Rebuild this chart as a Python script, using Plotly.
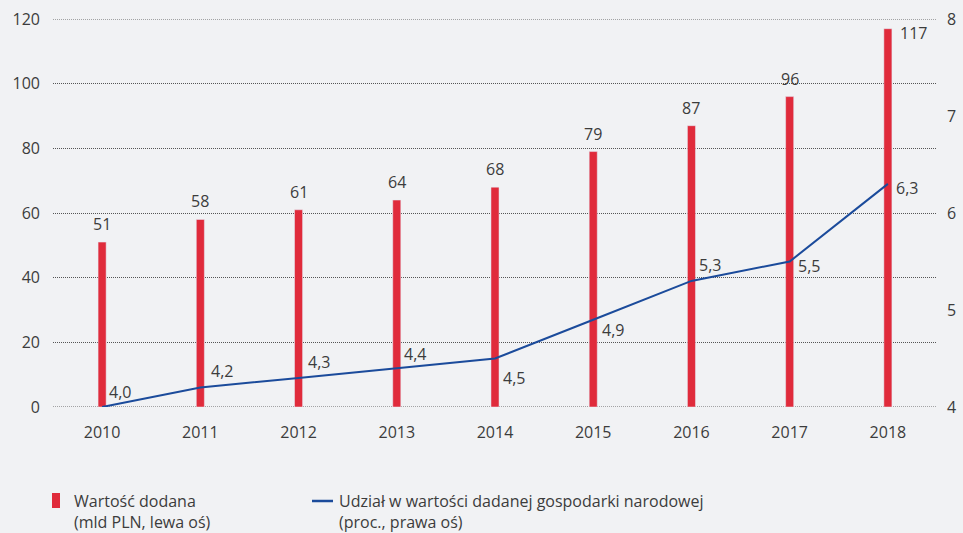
import plotly.graph_objects as go

years = ["2010", "2011", "2012", "2013", "2014", "2015", "2016", "2017", "2018"]
value_added = [51, 58, 61, 64, 68, 79, 87, 96, 117]
share = [4.0, 4.2, 4.3, 4.4, 4.5, 4.9, 5.3, 5.5, 6.3]
share_labels = ["4,0", "4,2", "4,3", "4,4", "4,5", "4,9", "5,3", "5,5", "6,3"]
left_ticks = [0, 20, 40, 60, 80, 100, 120]
right_ticks = [4, 5, 6, 7, 8]
legend_bar = "Wartość dodana<br>(mld PLN, lewa oś)"
legend_line = "Udział w wartości dadanej gospodarki narodowej<br>(proc., prawa oś)"

W, H = 963, 533
L, R, T, B = 53, 26, 19, 126
PW, PH = W - L - R, H - T - B
BG = "#F1F2F4"
RED = "#E02B3B"
BLUE = "#1B4B9B"
TXT = "#3C3C3C"
GRID = "#555555"
FONT = "Open Sans"
FS = 16

def px(x):
    return (x - L) / PW

def py(y):
    return (T + PH - y) / PH

fig = go.Figure()
fig.add_trace(go.Bar(x=years, y=value_added, marker_color=RED, width=0.082,
                     yaxis="y", showlegend=False, hoverinfo="skip"))
fig.add_trace(go.Scatter(x=years, y=share, mode="lines", line=dict(color=BLUE, width=2),
                         yaxis="y2", showlegend=False, hoverinfo="skip"))

annotations = []
# bar labels
for i, v in enumerate(value_added):
    if i == len(value_added) - 1:
        annotations.append(dict(x=i, y=v, xref="x", yref="y", text=str(v), showarrow=False,
                                xanchor="left", yanchor="middle", xshift=10, yshift=-4,
                                font=dict(family=FONT, size=FS, color=TXT)))
    else:
        annotations.append(dict(x=i, y=v, xref="x", yref="y", text=str(v), showarrow=False,
                                xanchor="center", yanchor="middle", yshift=18,
                                font=dict(family=FONT, size=FS, color=TXT)))
# line labels
offs = [(5, 15), (9, 17), (7, 16), (5, 14), (6, -19), (7, -10), (6, 16), (6, -4), (6, -4)]
for i, (v, t, (dx, dy)) in enumerate(zip(share, share_labels, offs)):
    annotations.append(dict(x=i, y=v, xref="x", yref="y2", text=t, showarrow=False,
                            xanchor="left", yanchor="middle", xshift=dx, yshift=dy,
                            font=dict(family=FONT, size=FS, color=TXT)))
# legend
annotations.append(dict(x=px(72), y=py(488), xref="paper", yref="paper", text=legend_bar,
                        showarrow=False, xanchor="left", yanchor="top", align="left",
                        font=dict(family=FONT, size=FS, color=TXT)))
annotations.append(dict(x=px(337), y=py(488), xref="paper", yref="paper", text=legend_line,
                        showarrow=False, xanchor="left", yanchor="top", align="left",
                        font=dict(family=FONT, size=FS, color=TXT)))

shapes = [
    dict(type="rect", xref="paper", yref="paper", x0=px(52), x1=px(60), y0=py(508), y1=py(493),
         fillcolor=RED, line=dict(width=0)),
    dict(type="line", xref="paper", yref="paper", x0=px(312), x1=px(333), y0=py(501), y1=py(501),
         line=dict(color=BLUE, width=2.5)),
]
# edge grid lines (plotly omits grid lines at the range edges)
for gv in (left_ticks[0], left_ticks[-1]):
    shapes.append(dict(type="line", xref="paper", yref="y", x0=0, x1=1, y0=gv, y1=gv,
                       layer="below", line=dict(color=GRID, width=1, dash="1px,1px")))

fig.update_layout(
    width=W, height=H,
    margin=dict(l=L, r=R, t=T, b=B),
    paper_bgcolor=BG, plot_bgcolor=BG,
    font=dict(family=FONT, size=FS, color=TXT),
    xaxis=dict(type="category", range=[-0.5, 8.5], showgrid=False, zeroline=False,
               showline=False, ticks="", automargin=False,
               tickfont=dict(family=FONT, size=FS, color=TXT), ticklabelstandoff=14),
    yaxis=dict(range=[0, 120], tickvals=left_ticks, showgrid=True, gridcolor=GRID,
               griddash="1px,1px", gridwidth=1, zeroline=False, showline=False, ticks="",
               automargin=False,
               tickfont=dict(family=FONT, size=FS, color=TXT), ticklabelstandoff=12),
    yaxis2=dict(range=[4, 8], tickvals=right_ticks, overlaying="y",
                side="right", showgrid=False, zeroline=False, showline=False, ticks="",
                automargin=False,
                tickfont=dict(family=FONT, size=FS, color=TXT), ticklabelstandoff=9),
    annotations=annotations,
    shapes=shapes,
)

fig.write_html("out.html")
